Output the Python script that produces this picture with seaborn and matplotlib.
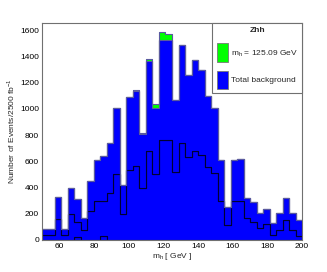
import matplotlib
matplotlib.use("Agg")
import matplotlib.pyplot as plt
import numpy as np
import pandas as pd
import seaborn as sns
from matplotlib.patches import Patch
from matplotlib.ticker import MultipleLocator

# 40 bins of 3.75 GeV between 50 and 200 GeV
bin_edges = np.linspace(50, 200, 41)
bin_centers = 0.5 * (bin_edges[:-1] + bin_edges[1:])

# cumulative background level (sum of all background processes)
total_bkg = [80, 80, 330, 85, 400, 310, 165, 450, 610, 640,
             740, 1010, 420, 1090, 1140, 805, 1365, 1010, 1525, 1525,
             1065, 1490, 1258, 1372, 1296, 1095, 1008, 613, 248, 610,
             618, 322, 288, 203, 238, 127, 203, 318, 203, 152]

# level of the two lower background processes stacked together
lower_bkg = [38, 38, 160, 38, 195, 140, 76, 218, 296, 296,
             360, 500, 200, 537, 562, 400, 680, 500, 760, 760,
             519, 742, 630, 680, 648, 555, 510, 300, 114, 295,
             295, 164, 140, 92, 120, 40, 76, 152, 76, 30]

# smallest background process (bottom of the stack)
small_bkg = [0, 0, 0, 0, 0, 22, 0, 0, 0, 30,
             0, 0, 0, 0, 0, 0, 0, 0, 0, 0,
             0, 0, 0, 0, 0, 0, 0, 0, 0, 0,
             0, 0, 0, 0, 0, 0, 0, 0, 0, 0]

# Zhh signal on top
signal = [0, 0, 0, 0, 0, 0, 0, 0, 0, 0,
          0, 0, 0, 1, 2, 8, 15, 28, 65, 50,
          3, 0, 0, 0, 0, 0, 0, 0, 0, 0,
          0, 0, 0, 0, 0, 0, 0, 0, 0, 0]

processes = ["signal", "bkg_upper", "bkg_middle", "bkg_small"]
layers = {
    "signal": np.array(signal),
    "bkg_upper": np.array(total_bkg) - np.array(lower_bkg),
    "bkg_middle": np.array(lower_bkg) - np.array(small_bkg),
    "bkg_small": np.array(small_bkg),
}

rows = []
for proc in processes:
    for x, w in zip(bin_centers, layers[proc]):
        rows.append({"mass": x, "weight": float(w), "process": proc})
df = pd.DataFrame(rows)

BLUE = "#0000ff"
GREEN = "#00ff00"
palette = {"signal": GREEN, "bkg_upper": BLUE, "bkg_middle": BLUE, "bkg_small": BLUE}

sns.set_theme(style="white")
plt.rcParams["font.family"] = ["Liberation Sans", "DejaVu Sans"]
plt.rcParams["mathtext.fontset"] = "custom"
plt.rcParams["mathtext.rm"] = "Liberation Sans"

fig = plt.figure(figsize=(3.27, 2.72), dpi=100)
ax = fig.add_axes([0.128, 0.118, 0.796, 0.797])

sns.histplot(data=df, x="mass", weights="weight", hue="process", hue_order=processes,
             bins=list(bin_edges), multiple="stack", element="step", fill=True,
             palette=palette, alpha=1, linewidth=0.8, edgecolor="#000033",
             legend=False, ax=ax)

# outline of the whole stack (drawn by the last layer) in a lighter tone
ax.collections[-1].set_edgecolor("#5a5aa0")

ax.set_xlim(50, 200)
ax.set_ylim(0, 1655)
ax.xaxis.set_major_locator(MultipleLocator(20))
ax.xaxis.set_minor_locator(MultipleLocator(4))
ax.yaxis.set_major_locator(MultipleLocator(200))
ax.yaxis.set_minor_locator(MultipleLocator(40))
ax.tick_params(which="both", direction="in", colors="#333333", labelcolor="black",
               labelsize=6, width=0.6, pad=2)
ax.tick_params(which="major", length=5)
ax.tick_params(which="minor", length=2.5)

for side in ["left", "bottom", "top", "right"]:
    ax.spines[side].set_color("#707070")
    ax.spines[side].set_linewidth(0.8)

ax.set_xlabel(r"m$_\mathregular{h}$ [ GeV ]", fontsize=6, labelpad=1)
ax.set_ylabel(r"Number of Events/2500 fb$^{-1}$", fontsize=6, labelpad=2)

handles = [
    Patch(facecolor=GREEN, edgecolor="#777777", linewidth=0.6,
          label=r"m$_\mathregular{h}$ = 125.09 GeV"),
    Patch(facecolor=BLUE, edgecolor="#777777", linewidth=0.6,
          label="Total background"),
]
leg = ax.legend(handles=handles, title="Zhh", loc="upper right",
                bbox_to_anchor=(1.0, 1.0), borderaxespad=0, fancybox=False,
                edgecolor="#707070", framealpha=1, fontsize=6,
                title_fontproperties={"weight": "bold", "size": 6},
                handlelength=1.4, handleheight=3.0, labelspacing=1.1,
                borderpad=0.5, handletextpad=0.35)
leg.get_frame().set_linewidth(0.8)

fig.savefig("out.png", dpi=100)
